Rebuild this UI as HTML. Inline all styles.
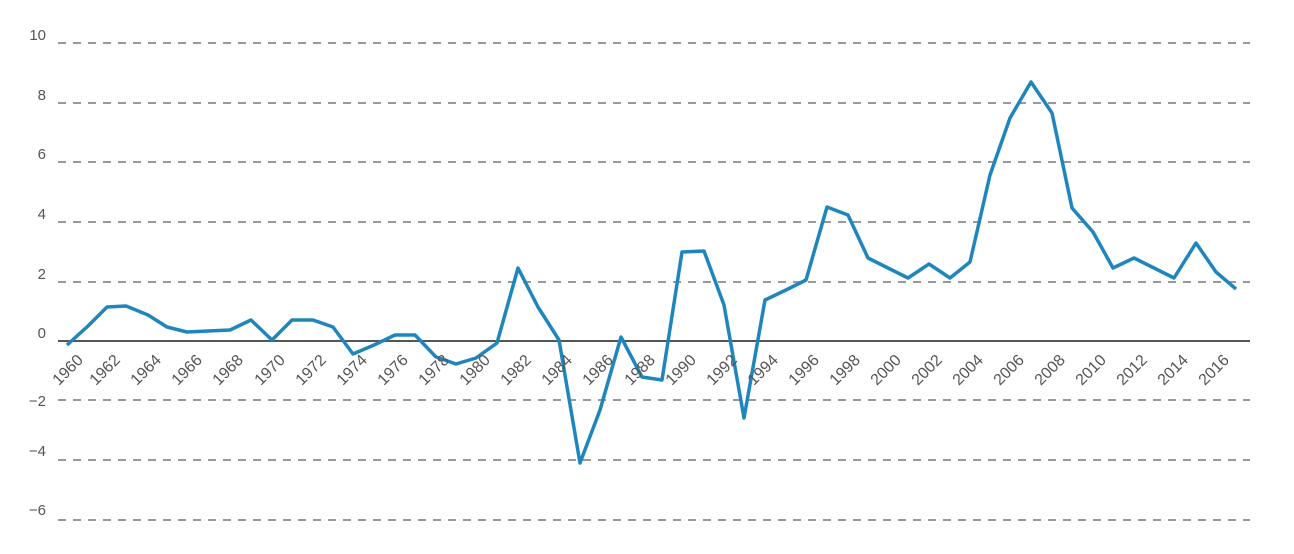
<!DOCTYPE html>
<html><head><style>body{margin:0;background:#fff}svg{display:block}</style></head><body>
<svg width="1294" height="554" xmlns="http://www.w3.org/2000/svg" font-family="Liberation Sans, sans-serif" font-size="15" fill="#555">
<g stroke="#999" stroke-width="2" stroke-dasharray="8,7">
<line x1="58" y1="43" x2="1250" y2="43"/><line x1="58" y1="103" x2="1250" y2="103"/><line x1="58" y1="162" x2="1250" y2="162"/><line x1="58" y1="222" x2="1250" y2="222"/><line x1="58" y1="282" x2="1250" y2="282"/><line x1="58" y1="400" x2="1250" y2="400"/><line x1="58" y1="460" x2="1250" y2="460"/><line x1="58" y1="520" x2="1250" y2="520"/>
</g>
<line x1="58" y1="341" x2="1250" y2="341" stroke="#555" stroke-width="2"/>
<g text-anchor="end"><text x="46" y="40">10</text><text x="46" y="100">8</text><text x="46" y="159">6</text><text x="46" y="219">4</text><text x="46" y="279">2</text><text x="46" y="338">0</text><text x="46" y="406">−2</text><text x="46" y="456">−4</text><text x="46" y="515">−6</text></g>
<polyline fill="none" stroke="#1f86bd" stroke-width="3.5" stroke-linejoin="round" points="67,345 88,326 107,307 126,306 148,315 167,327 187,332 208,331 230,330 251,320 272,340 292,320 313,320 333,327 353,354 374,345 395,335 415,335 436,357 456,364 476,358 497,343 518,268 538,307 559,340 580,463 600,410 621,337 642,377 662,380 682,252 704,251 724,305 744,418 765,300 786,290 806,280 827,207 848,215 868,258 888,268 908,278 929,264 950,278 970,262 990,175 1010,118 1031,82 1052,113 1072,208 1093,232 1113,268 1134,258 1154,268 1174,278 1196,243 1216,272 1236,289"/>
<g text-anchor="end" font-size="16">
<text transform="translate(84,361) rotate(-45)">1960</text><text transform="translate(121,361) rotate(-45)">1962</text><text transform="translate(162,361) rotate(-45)">1964</text><text transform="translate(203,361) rotate(-45)">1966</text><text transform="translate(244,361) rotate(-45)">1968</text><text transform="translate(286,361) rotate(-45)">1970</text><text transform="translate(327,361) rotate(-45)">1972</text><text transform="translate(368,361) rotate(-45)">1974</text><text transform="translate(409,361) rotate(-45)">1976</text><text transform="translate(450,361) rotate(-45)">1978</text><text transform="translate(491,361) rotate(-45)">1980</text><text transform="translate(532,361) rotate(-45)">1982</text><text transform="translate(573,361) rotate(-45)">1984</text><text transform="translate(614,361) rotate(-45)">1986</text><text transform="translate(656,361) rotate(-45)">1988</text><text transform="translate(697,361) rotate(-45)">1990</text><text transform="translate(738,361) rotate(-45)">1992</text><text transform="translate(779,361) rotate(-45)">1994</text><text transform="translate(820,361) rotate(-45)">1996</text><text transform="translate(861,361) rotate(-45)">1998</text><text transform="translate(902,361) rotate(-45)">2000</text><text transform="translate(943,361) rotate(-45)">2002</text><text transform="translate(984,361) rotate(-45)">2004</text><text transform="translate(1025,361) rotate(-45)">2006</text><text transform="translate(1066,361) rotate(-45)">2008</text><text transform="translate(1107,361) rotate(-45)">2010</text><text transform="translate(1148,361) rotate(-45)">2012</text><text transform="translate(1189,361) rotate(-45)">2014</text><text transform="translate(1230,361) rotate(-45)">2016</text>
</g>
</svg>
</body></html>
